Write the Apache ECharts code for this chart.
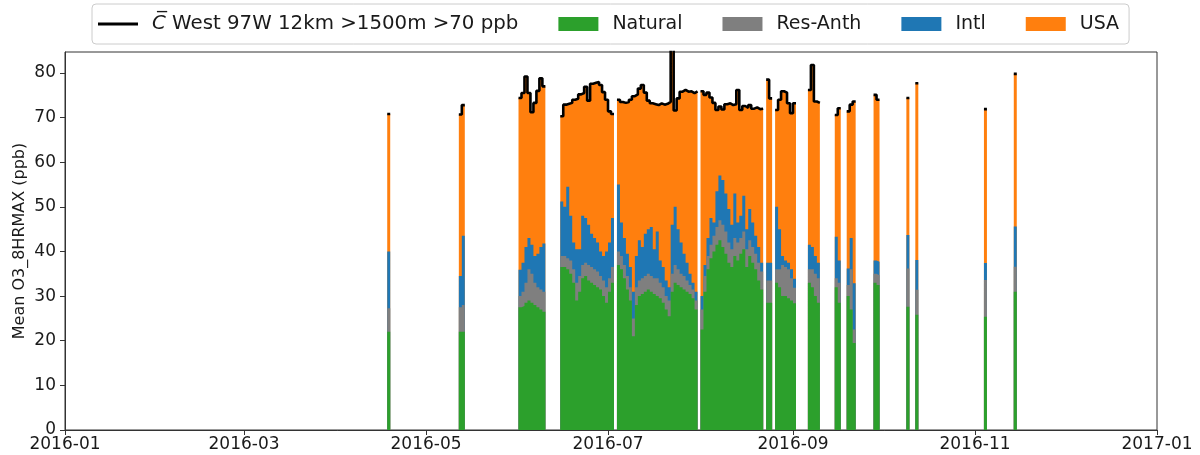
<!DOCTYPE html>
<html>
<head>
<meta charset="utf-8">
<script src="https://cdn.jsdelivr.net/npm/echarts@6/dist/echarts.min.js"></script>
<style>
  html, body { margin: 0; padding: 0; background: #ffffff; }
  #chart { width: 1200px; height: 455px; }
</style>
</head>
<body>
<div id="chart"></div>
<script>
// Daily records (days without data are simply absent)
const dates = [
  '2016-04-18',
  '2016-05-12', '2016-05-13',
  '2016-06-01', '2016-06-02', '2016-06-03', '2016-06-04', '2016-06-05', '2016-06-06', '2016-06-07', '2016-06-08', '2016-06-09',
  '2016-06-15', '2016-06-16', '2016-06-17', '2016-06-18', '2016-06-19', '2016-06-20', '2016-06-21', '2016-06-22', '2016-06-23',
  '2016-06-24', '2016-06-25', '2016-06-26', '2016-06-27', '2016-06-28', '2016-06-29', '2016-06-30', '2016-07-01', '2016-07-02',
  '2016-07-04', '2016-07-05', '2016-07-06', '2016-07-07', '2016-07-08', '2016-07-09', '2016-07-10', '2016-07-11', '2016-07-12',
  '2016-07-13', '2016-07-14', '2016-07-15', '2016-07-16', '2016-07-17', '2016-07-18', '2016-07-19', '2016-07-20', '2016-07-21',
  '2016-07-22', '2016-07-23', '2016-07-24', '2016-07-25', '2016-07-26', '2016-07-27', '2016-07-28', '2016-07-29', '2016-07-30',
  '2016-08-01', '2016-08-02', '2016-08-03', '2016-08-04', '2016-08-05', '2016-08-06', '2016-08-07', '2016-08-08', '2016-08-09',
  '2016-08-10', '2016-08-11', '2016-08-12', '2016-08-13', '2016-08-14', '2016-08-15', '2016-08-16', '2016-08-17', '2016-08-18',
  '2016-08-19', '2016-08-20', '2016-08-21',
  '2016-08-23', '2016-08-24',
  '2016-08-26', '2016-08-27', '2016-08-28', '2016-08-29', '2016-08-30', '2016-08-31', '2016-09-01',
  '2016-09-06', '2016-09-07', '2016-09-08', '2016-09-09',
  '2016-09-15', '2016-09-16',
  '2016-09-19', '2016-09-20', '2016-09-21',
  '2016-09-28', '2016-09-29',
  '2016-10-09', '2016-10-12',
  '2016-11-04', '2016-11-14'
];

// Source contributions, ppb
const natural = [
  22,
  22, 22,
  27.5, 27.8, 28.5, 29, 28.5, 28, 27.5, 27, 26.5,
  36.5, 36.5, 36, 35, 33, 29, 31, 34, 34.5, 33.5, 33, 32.5, 32, 31.5, 30, 28.5, 31, 33,
  37, 36, 34, 31.5, 29, 21, 28, 30, 30.5, 31, 31.5, 31, 30.5, 30, 29.5, 28.5, 27, 25.5, 31, 33, 32.5, 32, 31.5, 31, 30.5, 29.5, 27,
  22.5, 31, 36, 38.5, 40, 41.5, 42.5, 41, 39.5, 37.5, 36.5, 39, 38, 39.5, 40.5, 36.5, 39, 37.5, 36, 33.5, 31.5,
  28.5, 28.5,
  33, 32, 30, 30, 29.5, 29, 28.4,
  33, 32, 30, 28.5,
  32, 28.5,
  30, 27, 19.5,
  33, 32.5,
  27.6, 25.8,
  25.4, 31
];

const resAnth = [
  5.3,
  5.5, 6,
  2.5, 3.2, 4.5, 7, 6.5, 5, 4.5, 4.5, 4.5,
  2.5, 2.5, 2.5, 3, 3, 4, 3.5, 3, 3, 3.5, 3.5, 3.5, 3.5, 3, 3.5, 3.5, 3, 3.5,
  3, 3, 3, 3, 3, 4, 4, 3.5, 3.5, 3.5, 3.5, 3.5, 3.5, 4, 3.5, 3.5, 3, 3.5, 4, 4, 3.5, 3, 3, 2.5, 2, 2, 2,
  4.5, 3.5, 3, 3, 3.5, 4, 4.5, 5, 5, 4.5, 4, 4, 4, 3.5, 4, 4, 3.5, 3.5, 3.5, 4, 4,
  5, 5,
  3, 4, 7, 6.5, 6.5, 5, 3.5,
  3, 4, 5, 5.5,
  2, 4.5,
  2.5, 9, 3,
  2, 2.2,
  8.6, 5.6,
  8.2, 5.6
];

const intl = [
  12.7,
  7, 15.5,
  5.9, 6.5, 8, 7, 6.5, 6, 7.5, 9.5, 10.8,
  12.2, 11, 16, 10, 6, 7.5, 6, 11, 10, 9, 7.5, 7, 6.5, 5.5, 5.5, 8, 8, 11,
  15, 7.5, 6, 5, 4.5, 6, 7, 9, 7, 9.5, 10, 11, 6.5, 10.5, 5, 4.5, 3.5, 3, 11, 13, 9, 7, 5, 4, 2.5, 1.5, 2,
  3, 2.5, 4, 6, 3, 8, 10, 10, 8.5, 7.5, 5.5, 10, 4.5, 5, 8, 4.5, 7, 5.5, 4, 3.5, 2,
  4, 4,
  14, 9, 2, 1.5, 1.5, 2, 2,
  5.5, 5, 4, 3.5,
  9.3, 5,
  3.7, 7, 10.4,
  3, 3,
  7.5, 6.7,
  3.8, 9
];

const usa = [
  30.8,
  36.2, 29.3,
  38.5, 38, 38.2, 32.5, 29.7, 34.3, 36.5, 37.8, 35.2,
  19.1, 22.9, 18.6, 25.3, 32, 33.7, 34.7, 27.5, 29.4, 27.8, 33.6, 34.8, 36, 37.3, 36.7, 34, 29.4, 23.3,
  19, 27, 30.3, 34, 37.5, 43.8, 36.2, 34, 36.3, 31.6, 28.8, 27.7, 32.5, 28.3, 35.2, 36.4, 39.6, 41.5, 39.5, 21.6, 29.3, 33.8, 36.7, 38.3, 40.9, 42.5, 44.9,
  45.9, 38.1, 32.6, 27, 26.8, 18.2, 15.5, 15.8, 20, 23.7, 26.8, 20, 29.7, 23.7, 20.1, 27.2, 23.3, 25.5, 28.8, 30.9, 34.5,
  41, 36.8,
  21.7, 29, 36.9, 37.6, 35.7, 35, 39.3,
  34.7, 40.8, 34.6, 35.8,
  27.3, 34.1,
  35.2, 29.9, 40.7,
  37.1, 36.3,
  30.7, 39.6,
  34.5, 34.2
];

const xTickLabels = ['2016-01', '2016-03', '2016-05', '2016-07', '2016-09', '2016-11', '2017-01'];
const yTickValues = [0, 10, 20, 30, 40, 50, 60, 70, 80];

const LINE_NAME = 'C\u0305 West 97W 12km >1500m >70 ppb';
const FONT = 'DejaVu Sans';
const TEXT = '#1a1a1a';
const AXIS = '#333333';
const DAY = 86400000;

function toTime(s) {
  const p = s.split('-').map(Number);
  return new Date(p[0], p[1] - 1, p[2] || 1).getTime();
}
const times = dates.map(toTime);
const xTickTimes = xTickLabels.map(toTime);

// group consecutive days into runs; gaps between runs stay empty
const runs = [];
times.forEach((t, k) => {
  const last = runs[runs.length - 1];
  if (last && Math.round((t - times[last[1]]) / DAY) === 1) last[1] = k;
  else runs.push([k, k]);
});

// each day keeps its value until the next midnight (post step)
function stepData(values) {
  const out = [];
  runs.forEach(([a, b]) => {
    for (let k = a; k <= b; k++) out.push([times[k], values[k]]);
    const end = times[b] + DAY;
    out.push([end, values[b]]);
    out.push([end, null]);
  });
  return out;
}

// stacked levels, bottom to top
const lvlNatural = natural.slice();
const lvlRes = natural.map((v, k) => v + resAnth[k]);
const lvlIntl = lvlRes.map((v, k) => v + intl[k]);
const lvlTotal = lvlIntl.map((v, k) => v + usa[k]);

function band(name, values, color) {
  return {
    name, type: 'line', step: 'end', data: stepData(values),
    color, symbol: 'none', showSymbol: false, silent: true,
    lineStyle: { width: 0, color },
    itemStyle: { color },
    areaStyle: { color, opacity: 1 }
  };
}

const chart = echarts.init(document.getElementById('chart'), null, { renderer: 'canvas' });
chart.setOption({
  animation: false,
  backgroundColor: '#ffffff',
  grid: { left: 65, right: 43, top: 52, bottom: 25, show: true, borderColor: AXIS, borderWidth: 1, backgroundColor: 'transparent' },
  legend: {
    left: 92, top: 4,
    data: [
      { name: LINE_NAME, icon: 'path://M0 0H40V3H0Z' },
      { name: 'Natural', icon: 'rect' },
      { name: 'Res-Anth', icon: 'rect' },
      { name: 'Intl', icon: 'rect' },
      { name: 'USA', icon: 'rect' }
    ],
    itemWidth: 40, itemHeight: 14, itemGap: 40,
    padding: [10, 10, 10, 6],
    borderColor: '#cccccc', borderWidth: 1, borderRadius: 4,
    backgroundColor: 'rgba(255,255,255,0.8)',
    selectedMode: false,
    itemStyle: { borderWidth: 0 },
    textStyle: {
      fontFamily: FONT, fontSize: 19, color: TEXT, padding: [0, 0, 0, 9],
      rich: {
        c: { fontFamily: FONT, fontStyle: 'italic', fontSize: 19.8, color: TEXT },
        t: { fontFamily: FONT, fontSize: 19.8, color: TEXT }
      }
    },
    formatter: name => name === LINE_NAME ? '{c|C\u0305}{t|' + name.slice(2) + '}' : name
  },
  xAxis: {
    type: 'value',
    min: xTickTimes[0], max: xTickTimes[xTickTimes.length - 1],
    axisLine: { show: true, lineStyle: { color: AXIS, width: 1 } },
    axisTick: { show: true, length: 5, lineStyle: { color: AXIS }, customValues: xTickTimes },
    axisLabel: {
      customValues: xTickTimes,
      formatter: v => xTickLabels[xTickTimes.indexOf(v)] || '',
      fontFamily: FONT, fontSize: 17, color: TEXT, margin: 6, hideOverlap: false
    },
    splitLine: { show: false }
  },
  yAxis: {
    type: 'value', min: 0, max: 84.7,
    name: 'Mean O3_8HRMAX (ppb)', nameLocation: 'middle', nameGap: 37, nameRotate: 90,
    nameMoveOverlap: false,
    nameTextStyle: { fontFamily: FONT, fontSize: 16, color: TEXT },
    axisLine: { show: true, lineStyle: { color: AXIS, width: 1 } },
    axisTick: { show: true, length: 5, lineStyle: { color: AXIS }, customValues: yTickValues },
    axisLabel: { customValues: yTickValues, fontFamily: FONT, fontSize: 17, color: TEXT, margin: 9 },
    splitLine: { show: false }
  },
  series: [
    band('USA', lvlTotal, '#ff7f0e'),
    band('Intl', lvlIntl, '#1f77b4'),
    band('Res-Anth', lvlRes, '#7f7f7f'),
    band('Natural', lvlNatural, '#2ca02c'),
    {
      name: LINE_NAME, type: 'line', step: 'end', data: stepData(lvlTotal),
      color: '#000000', symbol: 'none', showSymbol: false, silent: true,
      itemStyle: { color: '#000000' },
      lineStyle: { width: 2.6, color: '#000000' },
      z: 5
    }
  ]
});
</script>
</body>
</html>
